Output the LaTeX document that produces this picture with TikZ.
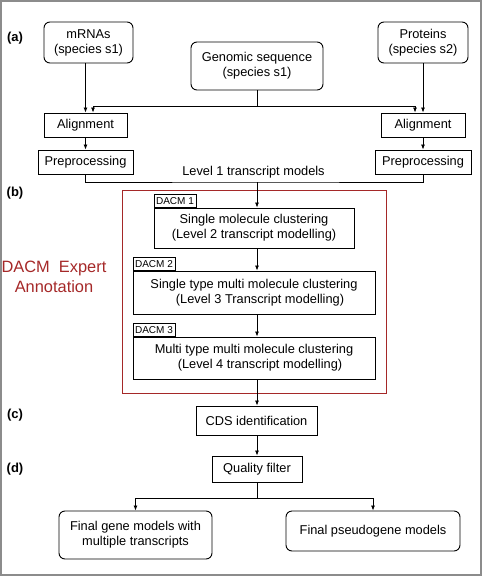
\documentclass[tikz,border=0pt]{standalone}
\usepackage{fontspec}
\setmainfont{Liberation Sans}
\usetikzlibrary{arrows.meta}
\definecolor{dacmred}{RGB}{165,40,40}

\begin{document}
\begin{tikzpicture}[x=1pt, y=-1pt,
            every node/.style={font=\fontsize{12.8}{15}\selectfont, inner sep=0pt},
            box/.style={draw, line width=0.9pt, align=center},
            rbox/.style={box, rounded corners=6pt},
            tag/.style={draw, line width=0.9pt, font=\fontsize{10}{11}\selectfont,
                        minimum width=42pt, minimum height=13pt, anchor=south west},
            part/.style={font=\fontsize{13}{15}\bfseries\selectfont},
            arr/.style={line width=0.8pt, -{Latex[length=5pt,width=4pt]}},
            ln/.style={line width=0.8pt}]
            % Frame of the whole figure
            \useasboundingbox (0,0) rectangle (482,576);
            \draw[black!45, line width=2pt] (1,1) rectangle (481,575);

            % Part labels
            \node[part] (pa) at (15,38) {(a)};
            \node[part] (pb) at (15,193) {(b)};
            \node[part] (pc) at (15,415) {(c)};
            \node[part] (pd) at (15,469) {(d)};

            % Input sequences
            \node[rbox, minimum width=89pt, minimum height=41pt] (mrna) at (88.5,42.5) {mRNAs\\(species s1)};
            \node[rbox, minimum width=132pt, minimum height=48pt] (genome) at (257,66) {Genomic sequence\\(species s1)};
            \node[rbox, minimum width=90pt, minimum height=41pt] (prot) at (423,42.5) {Proteins\\(species s2)};

            % Alignment and preprocessing
            \node[box, minimum width=83pt, minimum height=24pt] (alignL) at (85.5,125) {Alignment};
            \node[box, minimum width=84pt, minimum height=24pt] (alignR) at (423,125) {Alignment};
            \node[box, minimum width=95pt, minimum height=24pt] (preL) at (85.5,162) {Preprocessing};
            \node[box, minimum width=96pt, minimum height=24pt] (preR) at (423,162) {Preprocessing};

            \draw[arr] (mrna.south -| alignL) -- (alignL.north);
            \draw[arr] (prot.south -| alignR) -- (alignR.north);
            \coordinate (gsplit) at (257,106);
            \draw[ln] (genome.south) -- (gsplit);
            \draw[arr] (gsplit) -| ([xshift=7.5pt]alignL.north);
            \draw[arr] (gsplit) -| ([xshift=-8pt]alignR.north);
            \draw[arr] (alignL) -- (preL);
            \draw[arr] (alignR) -- (preR);

            % Level 1 transcript models
            \node (lvl1) at (253.5,172) {Level 1 transcript models};
            \coordinate (lvl) at (257,182);
            \draw[ln] (preL.south) |- (lvl) -| (preR.south);

            % DACM expert annotation
            \draw[dacmred, line width=0.9pt] (122,190) rectangle (386,393);
            \node[text=dacmred, align=center, font=\fontsize{16.4}{20}\selectfont] (expert) at (54,277) {DACM\ \ Expert\\Annotation};

            \node[box, minimum width=200pt, minimum height=40pt] (dacmA) at (254,228) {Single molecule clustering\\(Level 2 transcript modelling)};
            \node[tag] (tagA) at (dacmA.north west) {DACM 1};

            \node[box, minimum width=242pt, minimum height=43pt] (dacmB) at (254,292.5) {Single type multi molecule clustering\\\hspace*{12pt}(Level 3 Transcript modelling)};
            \node[tag] (tagB) at (dacmB.north west) {DACM 2};

            \node[box, minimum width=242pt, minimum height=42pt] (dacmC) at (254,358) {Multi type multi molecule clustering\\\hspace*{12pt}(Level 4 transcript modelling)};
            \node[tag] (tagC) at (dacmC.north west) {DACM 3};

            \draw[arr] (lvl) -- (lvl |- dacmA.north);
            \draw[arr] (dacmA.south -| lvl) -- (dacmB.north -| lvl);
            \draw[arr] (dacmB.south -| lvl) -- (dacmC.north -| lvl);

            % CDS and quality filter
            \node[box, minimum width=121pt, minimum height=29pt] (cds) at (256.5,420.5) {CDS identification};
            \node[box, minimum width=90pt, minimum height=26pt] (qual) at (257,469) {Quality filter};

            \draw[arr] (dacmC.south -| lvl) -- (cds.north -| lvl);
            \draw[arr] (cds.south -| lvl) -- (qual.north -| lvl);

            % Final models
            \node[rbox, minimum width=153pt, minimum height=48pt] (genes) at (135.5,535) {Final gene models with\\multiple transcripts};
            \node[rbox, minimum width=174pt, minimum height=40pt] (pseudo) at (373,531) {Final pseudogene models};

            \coordinate (qsplit) at (257,498);
            \draw[ln] (qual.south) -- (qsplit);
            \draw[arr] (qsplit) -| (genes.north);
            \draw[arr] (qsplit) -| (pseudo.north);

        \end{tikzpicture}
\end{document}
